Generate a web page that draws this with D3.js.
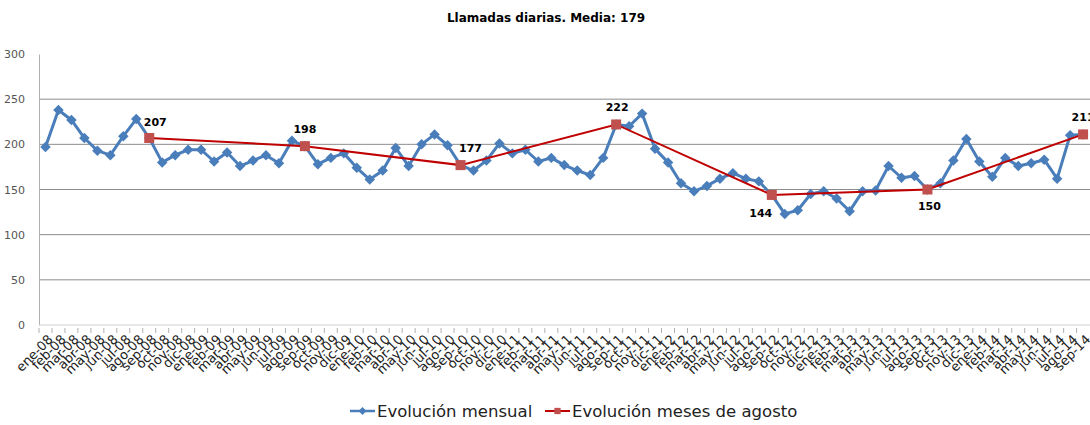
<!DOCTYPE html>
<html>
<head>
<meta charset="utf-8">
<script src="https://cdn.jsdelivr.net/npm/d3@7"></script>
<style>
  body { margin: 0; background: #fff; }
  text { font-family: "DejaVu Sans", sans-serif; }
</style>
</head>
<body>
<script>
// meses, ene-08 .. sep-14
var months = ["ene","feb","mar","abr","may","jun","jul","ago","sep","oct","nov","dic"];
var categories = [];
for (var yr = 8; yr <= 14; yr++) {
  months.forEach(function(m, i) {
    if (yr == 14 && i > 8) return;
    categories.push(m + "-" + (yr < 10 ? "0" + yr : yr));
  });
}

// llamadas diarias medias por mes
var mensual = [
  197,238,227,207,193,188,209,228,207,180,188,194,
  194,181,191,176,182,188,179,204,198,178,185,190,
  174,161,171,196,176,200,211,199,177,171,182,201,
  190,194,181,185,177,171,166,185,222,220,234,195,
  180,157,148,154,162,168,162,159,144,123,127,145,
  148,140,126,148,149,176,163,165,150,157,182,206,
  181,164,185,176,179,183,162,210,211
];

// serie de agosto (marcada en sep)
var agostoCats = ["sep-08","sep-09","sep-10","sep-11","sep-12","sep-13","sep-14"];
var agostoVals = [207,198,177,222,144,150,211];

var yTicks = [0,50,100,150,200,250,300];

var width = 1090, height = 425;
var plotLeft = 39, plotTop = 54, plotBottom = 325;

var svg = d3.select("body").append("svg")
    .attr("width", width)
    .attr("height", height);

var x = d3.scaleBand()
    .domain(categories)
    .range([plotLeft, plotLeft + categories.length * 12.97]);

var y = d3.scaleLinear()
    .domain([0, 300])
    .range([plotBottom, plotTop]);

var cx = function(c) { return x(c) + x.bandwidth() / 2; };

// title
svg.append("text")
    .attr("x", 546)
    .attr("y", 22)
    .attr("text-anchor", "middle")
    .attr("font-size", 12)
    .attr("font-weight", "bold")
    .attr("fill", "#000")
    .text("Llamadas diarias. Media: 179");

// gridlines
svg.append("g").selectAll("line")
    .data(yTicks.filter(function(d){ return d > 0 && d < 300; }))
    .enter()
    .append("line")
    .attr("x1", plotLeft)
    .attr("x2", width)
    .attr("y1", function(d){ return y(d); })
    .attr("y2", function(d){ return y(d); })
    .attr("stroke", "#8c8c8c")
    .attr("stroke-width", 1);

// y axis
var yAxis = svg.append("g")
    .attr("transform", "translate(" + plotLeft + ",0)")
    .call(d3.axisLeft(y).tickValues(yTicks).tickSize(0).tickPadding(14));
yAxis.select(".domain").attr("stroke", "#b0b0b0");
yAxis.selectAll("text")
    .attr("font-size", 11)
    .attr("fill", "#555")
    .style("font-family", "DejaVu Sans, sans-serif");

// x axis base line and ticks
svg.append("line")
    .attr("x1", plotLeft).attr("x2", width)
    .attr("y1", plotBottom).attr("y2", plotBottom)
    .attr("stroke", "#d0d0d0");
svg.append("g").selectAll("line")
    .data(categories)
    .enter()
    .append("line")
    .attr("x1", function(d){ return x(d); })
    .attr("x2", function(d){ return x(d); })
    .attr("y1", plotBottom + 3)
    .attr("y2", plotBottom + 8)
    .attr("stroke", "#b0b0b0");

svg.append("g").selectAll("text")
    .data(categories)
    .enter()
    .append("text")
    .attr("transform", function(d){
      return "translate(" + (cx(d) + 5) + "," + (plotBottom + 12) + ") rotate(-45)";
    })
    .attr("text-anchor", "end")
    .attr("dy", "0.35em")
    .attr("font-size", 13)
    .attr("fill", "#222")
    .text(function(d){ return d; });

// mensual line
var blue = "#4a7ebb";
var line = d3.line()
    .x(function(d, i){ return cx(categories[i]); })
    .y(function(d){ return y(d); });

svg.append("path")
    .datum(mensual)
    .attr("d", line)
    .attr("fill", "none")
    .attr("stroke", blue)
    .attr("stroke-width", 3)
    .attr("stroke-linejoin", "round");

var diamond = d3.symbol().type(d3.symbolDiamond2).size(70);
svg.append("g").selectAll("path")
    .data(mensual)
    .enter()
    .append("path")
    .attr("d", diamond)
    .attr("transform", function(d, i){ return "translate(" + cx(categories[i]) + "," + y(d) + ")"; })
    .attr("fill", blue);

// agosto line
var agLine = d3.line()
    .x(function(d, i){ return cx(agostoCats[i]); })
    .y(function(d){ return y(d); });

svg.append("path")
    .datum(agostoVals)
    .attr("d", agLine)
    .attr("fill", "none")
    .attr("stroke", "#c00000")
    .attr("stroke-width", 2);

svg.append("g").selectAll("rect")
    .data(agostoVals)
    .enter()
    .append("rect")
    .attr("x", function(d, i){ return cx(agostoCats[i]) - 5; })
    .attr("y", function(d){ return y(d) - 5; })
    .attr("width", 10)
    .attr("height", 10)
    .attr("fill", "#c0504d");

// labels: dx, dy relative to point
var labelOffsets = [[6,-16],[0,-17],[10,-17],[1,-17],[-11,18],[2,17],[0,-17]];
svg.append("g").selectAll("text")
    .data(agostoVals)
    .enter()
    .append("text")
    .attr("x", function(d, i){ return cx(agostoCats[i]) + labelOffsets[i][0]; })
    .attr("y", function(d, i){ return y(d) + labelOffsets[i][1]; })
    .attr("dy", "0.35em")
    .attr("text-anchor", "middle")
    .attr("font-size", 11)
    .attr("font-weight", "bold")
    .attr("fill", "#000")
    .text(function(d){ return d; });

// legend
var legend = [
  {name: "Evolución mensual", color: blue, x: 350, mark: "diamond"},
  {name: "Evolución meses de agosto", color: "#c00000", x: 545, mark: "square"}
];
var lg = svg.append("g").selectAll("g")
    .data(legend)
    .enter()
    .append("g")
    .attr("transform", function(d){ return "translate(" + d.x + ",411)"; });
lg.append("line")
    .attr("x1", 0).attr("x2", 25)
    .attr("stroke", function(d){ return d.color; })
    .attr("stroke-width", function(d){ return d.mark == "diamond" ? 2.5 : 2; });
lg.append("path")
    .attr("d", function(d){
      return d.mark == "diamond" ? d3.symbol().type(d3.symbolDiamond2).size(40)() : d3.symbol().type(d3.symbolSquare2).size(50)();
    })
    .attr("transform", "translate(12.5,0)")
    .attr("fill", function(d){ return d.mark == "diamond" ? blue : "#c0504d"; });
lg.append("text")
    .attr("x", 27)
    .attr("dy", "0.35em")
    .attr("font-size", 16.5)
    .attr("fill", "#222")
    .text(function(d){ return d.name; });
</script>
</body>
</html>
